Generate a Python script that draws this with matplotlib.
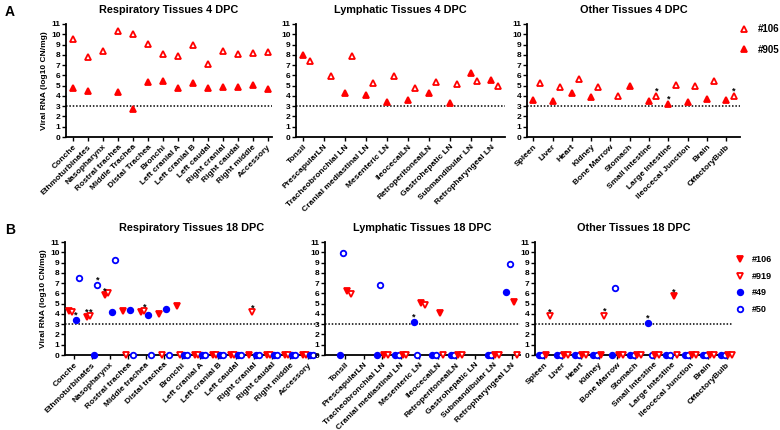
import numpy as np
import matplotlib
matplotlib.use('Agg')
import matplotlib.pyplot as plt

plt.rcParams['font.family'] = ['Liberation Sans', 'DejaVu Sans']
plt.rcParams['font.weight'] = 'bold'
plt.rcParams['axes.labelweight'] = 'bold'
plt.rcParams['axes.titleweight'] = 'bold'

nan = np.nan
RED = '#ff0000'
BLUE = '#0000ff'

# ---------- 4 DPC ----------
resp_tissues_4 = ['Conche', 'Ethmoturbinates', 'Nasopharynx', 'Rostral trachea', 'Middle Trachea',
                  'Distal Trachea', 'Bronchi', 'Left cranial A', 'Left cranial B', 'Left caudal',
                  'Right cranial', 'Right caudal', 'Right middle', 'Accessory']
resp4_106 = [9.5, 7.8, 8.35, 10.35, 10.0, 9.05, 8.1, 7.85, 8.95, 7.15, 8.35, 8.1, 8.2, 8.25]
resp4_905 = [4.75, 4.5, nan, 4.4, 2.75, 5.35, 5.5, 4.75, 5.25, 4.8, 4.85, 4.9, 5.1, 4.7]

lymph_tissues = ['Tonsil', 'PrescapularLN', 'Tracheobronchial LN', 'Cranial mediastinal LN',
                 'Mesenteric LN', 'IleocecalLN', 'RetroperitonealLN', 'Gastrohepatic LN',
                 'Submandibular LN', 'Retropharyngeal LN']
lymph4_905 = [8.0, nan, 4.3, 4.1, 3.4, 3.65, 4.3, 3.35, 6.2, 5.55]
lymph4_106 = [7.35, 5.9, 7.85, 5.3, 5.95, 4.75, 5.4, 5.15, 5.5, 4.95]

other_tissues = ['Spleen', 'Liver', 'Heart', 'Kidney', 'Bone Marrow', 'Stomach', 'Small Intestine',
                 'Large Intestine', 'Ileocecal Junction', 'Brain', 'OlfactoryBulb']
other4_905 = [3.6, 3.55, 4.3, 3.9, nan, 5.0, 3.5, 3.2, 3.4, 3.7, 3.6]
other4_106 = [5.3, 4.85, 5.6, 4.85, 4.0, nan, 4.0, 5.05, 4.95, 5.45, 4.0]
other4_stars = [('Small Intestine', '#106'), ('Large Intestine', '#905'), ('OlfactoryBulb', '#106')]

# ---------- 18 DPC ----------
resp_tissues_18 = ['Conche', 'Ethmoturbinates', 'Nasopharynx', 'Rostral trachea', 'Middle trachea',
                   'Distal trachea', 'Bronchi', 'Left cranial A', 'Left cranial B', 'Left caudal',
                   'Right cranial', 'Right caudal', 'Right middle', 'Accessory']
resp18_106 = [4.25, 3.7, 5.8, 4.3, 4.2, 4.0, 4.75, 0, 0, 0, 0, 0, 0, 0]
resp18_919 = [4.2, 3.75, 6.05, 0, 4.25, 0, 0, 0, 0, 0, 4.15, 0, 0, 0]
resp18_49 = [3.45, 0, 4.2, 4.4, 3.9, 4.45, 0, 0, 0, 0, 0, 0, 0, 0]
resp18_50 = [7.45, 6.8, 9.25, 0, 0, 0, 0, 0, 0, 0, 0, 0, 0, 0]
resp18_stars = [('Conche', '#49'), ('Ethmoturbinates', '#106'), ('Ethmoturbinates', '#919'),
                ('Ethmoturbinates', '#50'), ('Nasopharynx', '#106'), ('Middle trachea', '#919'),
                ('Right cranial', '#919')]

lymph18_49 = [0, nan, 0, 0, 3.25, 0, 0, nan, 0, 6.1]
lymph18_50 = [9.95, nan, 6.85, 0, 0, 0, 0, nan, 0, 8.85]
lymph18_106 = [6.2, nan, 0, 0, 5.1, 4.05, 0, nan, 0, 5.2]
lymph18_919 = [5.95, nan, 0, 0, 4.9, 0, 0, nan, 0, 0]
lymph18_stars = [('Mesenteric LN', '#49')]

other18_49 = [0, 0, 0, 0, 0, 0, 3.15, 0, 0, 0, 0]
other18_50 = [0, 0, 0, 0, 6.55, 0, 0, 0, 0, 0, 0]
other18_106 = [0, 0, 0, 0, 0, 0, 0, 5.7, 0, 0, 0]
other18_919 = [3.75, 0, 0, 3.8, 0, 0, 0, 0, 0, 0, 0]
other18_stars = [('Spleen', '#919'), ('Kidney', '#919'), ('Small Intestine', '#49'),
                 ('Large Intestine', '#106')]

STYLE = {
    '#106': ('^', RED, False),
    '#905': ('^', RED, True),
}
STYLE18 = {
    '#106': ('v', RED, True),
    '#919': ('v', RED, False),
    '#49': ('o', BLUE, True),
    '#50': ('o', BLUE, False),
}

fig = plt.figure(figsize=(7.8, 4.3), dpi=100)


def make_ax(left, top, right, bottom):
    W, H = 780.0, 430.0
    return fig.add_axes([left / W, 1 - bottom / H, (right - left) / W, (bottom - top) / H])


def panel(ax, tissues, series, offsets, styles, xlim, title, stars=(), ms=5.0, ylabel=False):
    x = np.arange(len(tissues))
    pos = {}
    for (name, vals), off in zip(series, offsets):
        marker, color, filled = styles[name]
        ax.plot(x + off, vals, ls='none', marker=marker, ms=ms, mec=color,
                mfc=color if filled else 'white', mew=1.3, clip_on=False, label=name, zorder=3)
        pos[name] = (x + off, vals)
    for tissue, name in stars:
        i = tissues.index(tissue)
        xs, vals = pos[name]
        ax.text(xs[i], vals[i] + 0.45, '*', ha='center', va='center', fontsize=6.5, zorder=4)
    ax.axhline(3, color='black', ls=(0, (1, 1.2)), lw=1.1, zorder=1)
    ax.set_xlim(*xlim)
    ax.set_ylim(0, 11)
    ax.set_yticks(range(12))
    ax.set_xticks(x)
    ax.set_xticklabels(tissues, rotation=45, ha='right', rotation_mode='anchor', fontsize=6.0)
    ax.tick_params(axis='y', labelsize=6.0, length=3, width=1.0, pad=1)
    ax.tick_params(axis='x', length=3, width=1.0, pad=1.5)
    for s in ['top', 'right']:
        ax.spines[s].set_visible(False)
    for s in ['left', 'bottom']:
        ax.spines[s].set_linewidth(1.3)
    ax.set_title(title, fontsize=7.8, pad=8)
    if ylabel:
        ax.set_ylabel('Viral RNA (log10 CN/mg)', fontsize=6.0, labelpad=2)


# top row
ax1 = make_ax(66, 24, 272, 137)
panel(ax1, resp_tissues_4, [('#106', resp4_106), ('#905', resp4_905)], [0, 0], STYLE,
      (-0.47, 13.3), 'Respiratory Tissues 4 DPC', ylabel=True)
ax2 = make_ax(296, 24, 505, 137)
panel(ax2, lymph_tissues, [('#905', lymph4_905), ('#106', lymph4_106)], [0, 0.33], STYLE,
      (-0.35, 9.65), 'Lymphatic Tissues 4 DPC')
ax3 = make_ax(527, 24, 740, 137)
panel(ax3, other_tissues, [('#905', other4_905), ('#106', other4_106)], [0, 0.37], STYLE,
      (-0.32, 10.7), 'Other Tissues 4 DPC', stars=other4_stars)
h, l = ax3.get_legend_handles_labels()
order = [l.index('#106'), l.index('#905')]
ax3.legend([h[k] for k in order], [l[k] for k in order], loc='upper left',
           bbox_to_anchor=(739 / 780, 1 - 24 / 430), bbox_transform=fig.transFigure,
           frameon=False, fontsize=7, handlelength=1.0, handletextpad=0.9, labelspacing=1.1,
           borderaxespad=0, borderpad=0)

# bottom row
off4 = [-0.3, -0.1, 0.1, 0.3]
bx1 = make_ax(65, 242, 318, 355)
panel(bx1, resp_tissues_18, [('#106', resp18_106), ('#919', resp18_919), ('#49', resp18_49),
                             ('#50', resp18_50)], off4, STYLE18, (-0.5, 13.55),
      'Respiratory Tissues 18 DPC', stars=resp18_stars, ms=4.0, ylabel=True)
bx2 = make_ax(325, 242, 520, 355)
panel(bx2, lymph_tissues, [('#49', lymph18_49), ('#50', lymph18_50), ('#106', lymph18_106),
                           ('#919', lymph18_919)], off4, STYLE18, (-1.1, 9.45),
      'Lymphatic Tissues 18 DPC', stars=lymph18_stars, ms=4.0)
bx3 = make_ax(535, 242, 732, 355)
panel(bx3, other_tissues, [('#49', other18_49), ('#50', other18_50), ('#106', other18_106),
                           ('#919', other18_919)], off4, STYLE18, (-0.5, 10.3),
      'Other Tissues 18 DPC', stars=other18_stars, ms=4.0)
h, l = bx3.get_legend_handles_labels()
order = [l.index(k) for k in ['#106', '#919', '#49', '#50']]
bx3.legend([h[k] for k in order], [l[k] for k in order], loc='upper left',
           bbox_to_anchor=(735 / 780, 1 - 255 / 430), bbox_transform=fig.transFigure,
           frameon=False, fontsize=6.5, handlelength=1.0, handletextpad=0.9, labelspacing=0.85,
           borderaxespad=0, borderpad=0)

fig.text(5 / 780, 1 - 12 / 430, 'A', fontsize=10, fontweight='bold', va='center')
fig.text(5 / 780, 1 - 230 / 430, 'B', fontsize=10, fontweight='bold', va='center')

fig.savefig('out.png', dpi=100)
